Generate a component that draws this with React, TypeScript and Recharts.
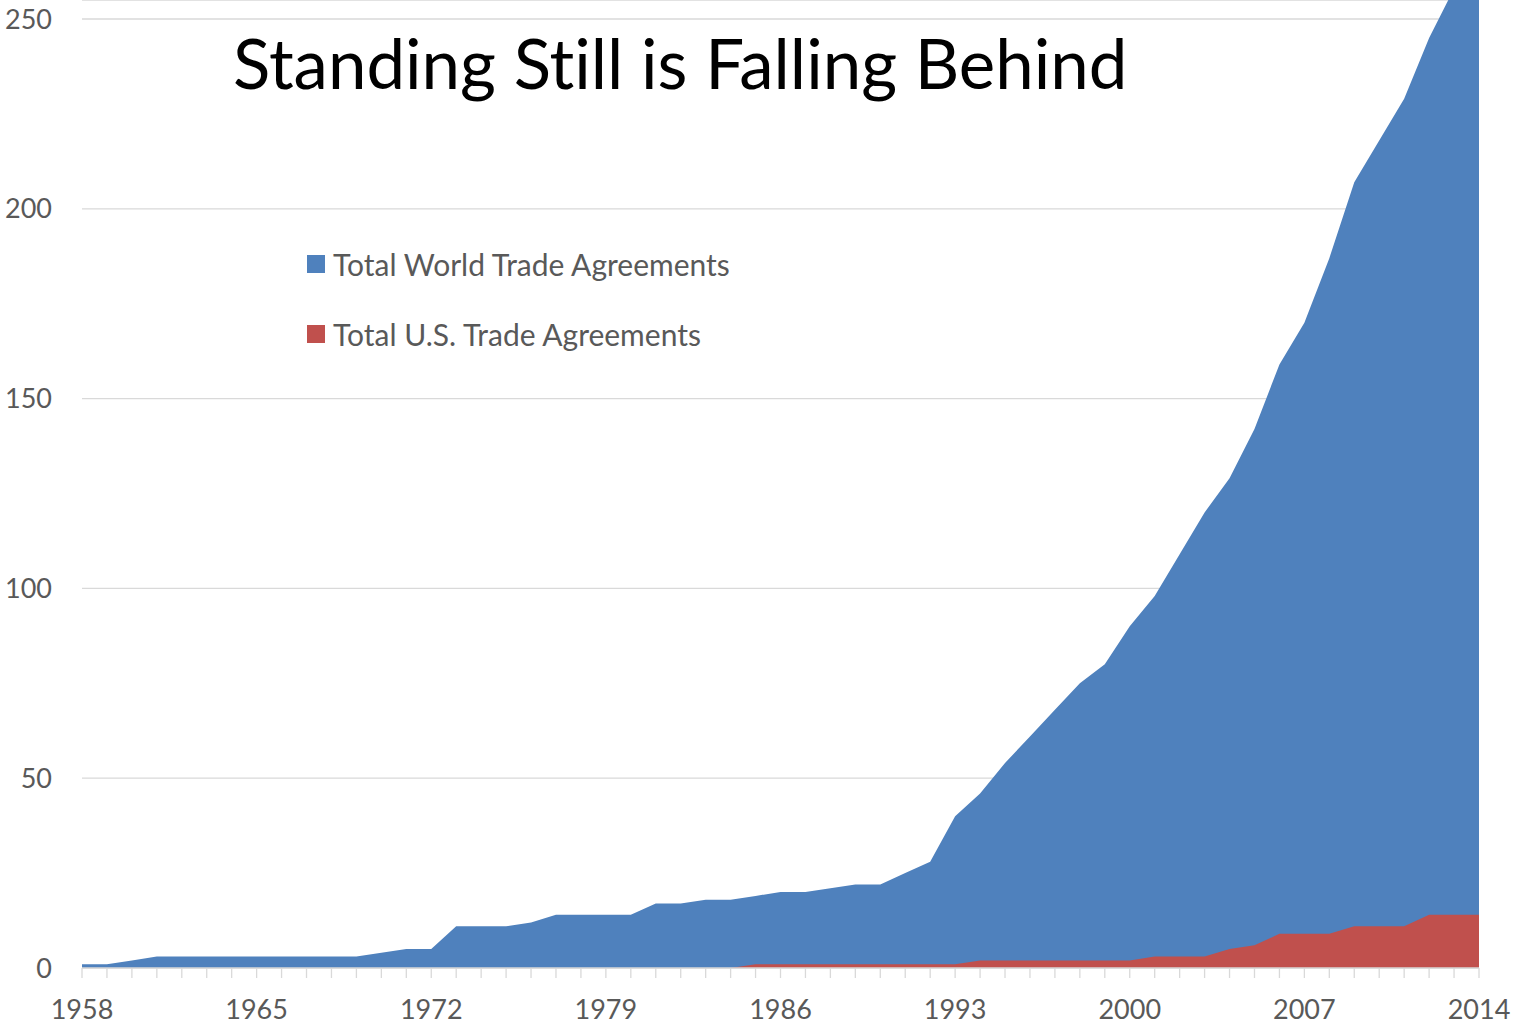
import React from 'react';
import { AreaChart, Area, XAxis, YAxis, CartesianGrid } from 'recharts';

const years = [
  1958, 1959, 1960, 1961, 1962, 1963, 1964, 1965, 1966, 1967, 1968, 1969, 1970, 1971, 1972,
  1973, 1974, 1975, 1976, 1977, 1978, 1979, 1980, 1981, 1982, 1983, 1984, 1985, 1986, 1987,
  1988, 1989, 1990, 1991, 1992, 1993, 1994, 1995, 1996, 1997, 1998, 1999, 2000, 2001, 2002,
  2003, 2004, 2005, 2006, 2007, 2008, 2009, 2010, 2011, 2012, 2013, 2014,
];

const worldAgreements = [
  1, 1, 2, 3, 3, 3, 3, 3, 3, 3, 3, 3, 4, 5, 5,
  11, 11, 11, 12, 14, 14, 14, 14, 17, 17, 18, 18, 19, 20, 20,
  21, 22, 22, 25, 28, 40, 46, 54, 61, 68, 75, 80, 90, 98, 109,
  120, 129, 142, 159, 170, 187, 207, 218, 229, 245, 258, 272,
];

const usAgreements = [
  0, 0, 0, 0, 0, 0, 0, 0, 0, 0, 0, 0, 0, 0, 0,
  0, 0, 0, 0, 0, 0, 0, 0, 0, 0, 0, 0, 1, 1, 1,
  1, 1, 1, 1, 1, 1, 2, 2, 2, 2, 2, 2, 2, 3, 3,
  3, 5, 6, 9, 9, 9, 11, 11, 11, 14, 14, 14,
];

const labelledYears = [1958, 1965, 1972, 1979, 1986, 1993, 2000, 2007, 2014];
const yTicks = [0, 50, 100, 150, 200, 250];

const seriesNames = ['Total World Trade Agreements', 'Total U.S. Trade Agreements'];
const seriesColors = ['#4F81BD', '#C0504D'];

const data = years.map((year, i) => ({
  year,
  world: worldAgreements[i],
  us: usAgreements[i],
}));

const FONT = 'Lato, "Open Sans", sans-serif';

// legend sits inside the plot, so it is drawn as an overlay instead of taking chart space
const LegendBox = () => (
  <div style={{ position: 'absolute', left: 307, top: 246, fontFamily: FONT, fontVariantLigatures: 'none' }}>
    {seriesNames.map((name, i) => (
      <div
        key={name}
        style={{ display: 'flex', alignItems: 'center', height: 36, marginBottom: i === 0 ? 34 : 0 }}
      >
        <span
          style={{ width: 18, height: 18, background: seriesColors[i], display: 'inline-block', marginRight: 8 }}
        />
        <span style={{ fontSize: 30, color: '#595959', whiteSpace: 'nowrap' }}>{name}</span>
      </div>
    ))}
  </div>
);

const App = () => {
  return (
    <div style={{ position: 'absolute', left: 0, top: 0, width: 1518, height: 1024, background: '#fff' }}>
      <AreaChart
        width={1518}
        height={1024}
        data={data}
        margin={{ top: 0, right: 39, left: 0, bottom: 0 }}
      >
        <CartesianGrid vertical={false} stroke="#d9d9d9" strokeWidth={1.3} />
        <XAxis
          dataKey="year"
          type="number"
          domain={[1958, 2014]}
          ticks={years}
          interval={0}
          height={56}
          tickSize={10}
          tickMargin={22}
          stroke="#d9d9d9"
          strokeWidth={1.3}
          tickFormatter={(v: number) => (labelledYears.includes(v) ? String(v) : '')}
          tick={{ fill: '#595959', fontSize: 27, fontFamily: FONT }}
        />
        <YAxis
          domain={[0, 255]}
          allowDataOverflow
          ticks={yTicks}
          width={82}
          axisLine={false}
          tickLine={false}
          tickSize={0}
          tickMargin={30}
          tick={{ fill: '#595959', fontSize: 27, fontFamily: FONT }}
        />
        <Area
          type="linear"
          dataKey="world"
          name={seriesNames[0]}
          stroke="none"
          fill={seriesColors[0]}
          fillOpacity={1}
          isAnimationActive={false}
        />
        <Area
          type="linear"
          dataKey="us"
          name={seriesNames[1]}
          stroke="none"
          fill={seriesColors[1]}
          fillOpacity={1}
          isAnimationActive={false}
        />
      </AreaChart>
      <LegendBox />
      <div
        style={{
          position: 'absolute',
          left: 233,
          top: 22,
          fontFamily: FONT,
          fontSize: 69,
          color: '#000',
          whiteSpace: 'nowrap',
          lineHeight: 1.2,
          fontVariantLigatures: 'none',
        }}
      >
        Standing Still is Falling Behind
      </div>
    </div>
  );
};

export default App;
